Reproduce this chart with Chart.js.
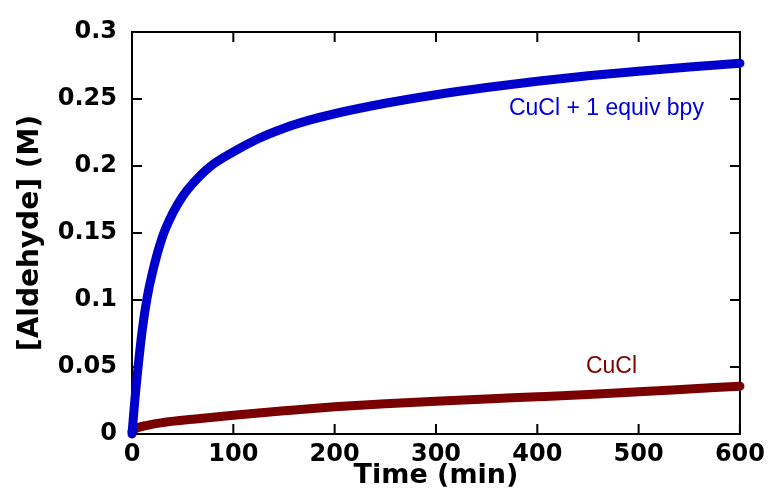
<!DOCTYPE html>
<html lang="en">
<head>
    <meta charset="UTF-8">
    <title>Aldehyde formation</title>
    <script src="https://cdn.jsdelivr.net/npm/chart.js"></script>
    <style>
        html, body { margin: 0; padding: 0; background: #fff; }
        #wrap { width: 771px; height: 495px; }
    </style>
</head>
<body>
    <div id="wrap"><canvas id="chart" width="771" height="495"></canvas></div>

    <script>
        // CuCl + 1 equiv bpy (blue)
        const bpyTime = [0, 3, 6, 10, 15, 20, 30, 40, 50, 60, 77, 100, 125, 150, 175, 200, 250, 300, 350, 400, 450, 500, 550, 600];
        const bpyConc = [0, 0.027, 0.05, 0.077, 0.102, 0.12, 0.147, 0.1645, 0.1775, 0.187, 0.1995, 0.2105, 0.2205, 0.2282, 0.2342, 0.239, 0.2468, 0.2532, 0.2586, 0.2633, 0.2673, 0.2707, 0.2738, 0.2767];

        // CuCl alone (dark red)
        const cuclTime = [0, 5, 15, 30, 60, 100, 150, 200, 250, 300, 350, 400, 450, 500, 550, 600];
        const cuclConc = [0.002, 0.0045, 0.0065, 0.0085, 0.011, 0.014, 0.0173, 0.0203, 0.0226, 0.0245, 0.0262, 0.0278, 0.0295, 0.0315, 0.0336, 0.0357];

        const xTicks = [0, 100, 200, 300, 400, 500, 600];
        const yTicks = [0, 0.05, 0.1, 0.15, 0.2, 0.25, 0.3];

        const toPoints = (xs, ys) => xs.map((x, i) => ({ x: x, y: ys[i] }));

        // in-plot text labels, anchored in data coordinates
        const notes = [
            { text: "CuCl + 1 equiv bpy", x: 372, y: 0.238, color: "#0000dd" },
            { text: "CuCl", x: 448, y: 0.0455, color: "#800000" }
        ];

        // box around the plot with inward ticks on all four sides
        const framePlugin = {
            id: "frame",
            beforeDatasetsDraw(chart) {
                const { ctx, chartArea: a, scales } = chart;
                ctx.save();
                ctx.strokeStyle = "#000";
                ctx.lineWidth = 2;
                ctx.strokeRect(a.left, a.top, a.right - a.left, a.bottom - a.top);
                const len = 10;
                ctx.beginPath();
                xTicks.forEach(v => {
                    const px = scales.x.getPixelForValue(v);
                    ctx.moveTo(px, a.bottom); ctx.lineTo(px, a.bottom - len);
                    ctx.moveTo(px, a.top); ctx.lineTo(px, a.top + len);
                });
                yTicks.forEach(v => {
                    const py = scales.y.getPixelForValue(v);
                    ctx.moveTo(a.left, py); ctx.lineTo(a.left + len, py);
                    ctx.moveTo(a.right, py); ctx.lineTo(a.right - len, py);
                });
                ctx.stroke();
                ctx.restore();
            },
            afterDraw(chart) {
                const { ctx, scales } = chart;
                ctx.save();
                ctx.font = "23px 'Liberation Sans', Arial, sans-serif";
                ctx.textBaseline = "alphabetic";
                ctx.textAlign = "left";
                notes.forEach(n => {
                    ctx.fillStyle = n.color;
                    ctx.fillText(n.text, scales.x.getPixelForValue(n.x), scales.y.getPixelForValue(n.y));
                });
                ctx.restore();
            }
        };

        const tickFont = { family: "'DejaVu Sans', sans-serif", size: 24, weight: "bold" };
        const titleFont = { family: "'DejaVu Sans', sans-serif", size: 27, weight: "bold" };

        const lineStyle = {
            borderWidth: 9,
            borderCapStyle: "round",
            borderJoinStyle: "round",
            cubicInterpolationMode: "monotone",
            pointRadius: 0,
            clip: false
        };

        new Chart(document.getElementById("chart"), {
            type: "line",
            data: {
                datasets: [
                    Object.assign({ label: "CuCl + 1 equiv bpy", data: toPoints(bpyTime, bpyConc), borderColor: "#0000cc" }, lineStyle),
                    Object.assign({ label: "CuCl", data: toPoints(cuclTime, cuclConc), borderColor: "#7a0000" }, lineStyle)
                ]
            },
            options: {
                responsive: false,
                animation: false,
                events: [],
                layout: { padding: { top: 32, right: 30, left: 0, bottom: 0 } },
                plugins: {
                    legend: { display: false },
                    tooltip: { enabled: false }
                },
                scales: {
                    x: {
                        type: "linear",
                        min: 0,
                        max: 600,
                        afterFit: s => { s.height = 61; },
                        afterBuildTicks: s => { s.ticks = xTicks.map(v => ({ value: v })); },
                        grid: { display: false, drawTicks: false },
                        border: { display: false },
                        ticks: { font: tickFont, color: "#000", padding: 6, maxRotation: 0 },
                        title: { display: true, text: "Time (min)", font: titleFont, color: "#000", padding: { top: 0, bottom: 3 } }
                    },
                    y: {
                        type: "linear",
                        min: 0,
                        max: 0.3,
                        afterFit: s => { s.width = 132; },
                        afterBuildTicks: s => { s.ticks = yTicks.map(v => ({ value: v })); },
                        grid: { display: false, drawTicks: false },
                        border: { display: false },
                        ticks: {
                            font: tickFont,
                            color: "#000",
                            padding: 15,
                            callback: v => String(+v.toFixed(2))
                        },
                        title: { display: true, text: "[Aldehyde] (M)", font: { family: "'DejaVu Sans', sans-serif", size: 28, weight: "bold" }, color: "#000", padding: { top: 14, bottom: 0 } }
                    }
                }
            },
            plugins: [framePlugin]
        });
    </script>
</body>
</html>
